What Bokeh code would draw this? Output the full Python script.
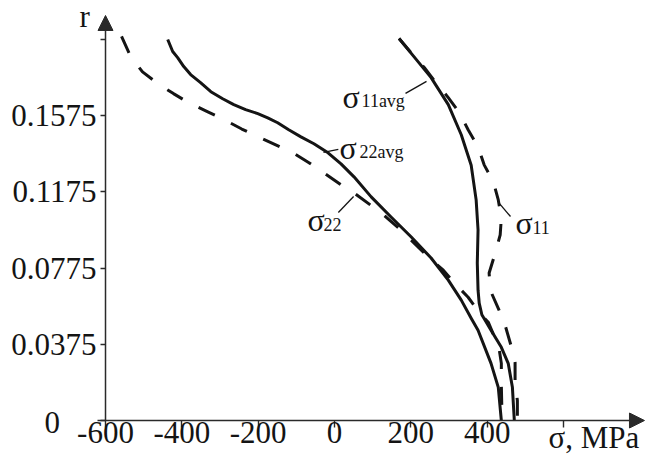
from bokeh.plotting import figure
from bokeh.models import Range1d, FixedTicker, Arrow, NormalHead, Label, ColumnDataSource
from bokeh.embed import file_html
from bokeh.resources import INLINE
from bokeh.core.properties import value

# ---------------- data ----------------
x_ticks = [-600, -400, -200, 0, 200, 400, 600]
x_tick_labels = ["-600", "-400", "-200", "0", "200", "400", ""]
y_ticks = [0, 0.04, 0.08, 0.12, 0.16, 0.2]
y_tick_labels = ["", "0.0375", "0.0775", "0.1175", "0.1575", ""]

s22avg_sigma = [-437, -424, -411, -395, -377, -351, -324, -293, -264, -233, -201, -175, -149, -120, -88, -54, -17, 17, 51, 96, 148, 201, 253, 298, 332, 358, 376, 410, 429, 437]
s22avg_r = [0.200, 0.1937, 0.1905, 0.1858, 0.1816, 0.1774, 0.1726, 0.1689, 0.1658, 0.1632, 0.1611, 0.1589, 0.1563, 0.1526, 0.1489, 0.1453, 0.1405, 0.1347, 0.1279, 0.1174, 0.1068, 0.0963, 0.0853, 0.0737, 0.0632, 0.0537, 0.0474, 0.0300, 0.0174, 0.0]

s22_sigma = [-558, -534, -503, -464, -422, -382, -332, -290, -243, -201, -154, -109, -67, -28, 17, 51, 101, 135, 174, 248, 285, 319, 350, 384, 403, 431, 437, 437, 439]
s22_r = [0.2016, 0.191, 0.183, 0.177, 0.1716, 0.1668, 0.162, 0.158, 0.153, 0.149, 0.1447, 0.1405, 0.1353, 0.130, 0.1237, 0.1195, 0.1121, 0.1068, 0.100, 0.0853, 0.0789, 0.0711, 0.0647, 0.0553, 0.0516, 0.0379, 0.030, 0.0184, 0.0]

s11avg_sigma = [169, 208, 253, 298, 332, 358, 371, 376, 374, 376, 379, 386, 410, 437, 455, 466, 471]
s11avg_r = [0.2005, 0.191, 0.180, 0.1658, 0.150, 0.134, 0.1158, 0.100, 0.0826, 0.0684, 0.0616, 0.0555, 0.0474, 0.0384, 0.030, 0.0174, 0.0]

s11_sigma = [169, 200, 235, 263, 298, 327, 350, 376, 392, 416, 429, 437, 434, 421, 405, 408, 431, 447, 466, 473, 473, 479, 479]
s11_r = [0.2005, 0.1932, 0.1853, 0.178, 0.1695, 0.1616, 0.1526, 0.1437, 0.1342, 0.1253, 0.1158, 0.1063, 0.0974, 0.0879, 0.0774, 0.0684, 0.0579, 0.050, 0.0368, 0.0305, 0.020, 0.0105, 0.0]

label_main = ["σ", "σ", "σ", "σ"]
label_sub = ["11avg", "22avg", "22", "11"]
label_x = [21, 13, -71, 474]
label_y = [0.1643, 0.1375, 0.0997, 0.0982]
label_sub_dx = [19, 20, 16, 17]

leader_x0 = [186, -29, 10, 430]
leader_y0 = [0.1717, 0.1407, 0.1092, 0.1144]
leader_x1 = [241, 10, 50, 461]
leader_y1 = [0.178, 0.1423, 0.1176, 0.1071]

# ---------------- figure ----------------
FONT = "Liberation Serif"
INK = "#141414"
AX = "#2a2a2a"
BIG = 32
SUB = 18
MID = 0.3375  # middle-of-box above baseline, in em

p = figure(width=646, height=455, output_backend="svg", toolbar_location=None,
           x_range=Range1d(-875.1, 817.3), y_range=Range1d(-0.01837, 0.22047),
           min_border_left=0, min_border_right=0, min_border_top=0, min_border_bottom=0)
p.outline_line_color = None
p.grid.visible = False
p.background_fill_color = "white"
p.border_fill_color = "white"

p.xaxis.ticker = FixedTicker(ticks=x_ticks)
p.xaxis.major_label_overrides = {t: l for t, l in zip(x_ticks, x_tick_labels)}
p.yaxis.ticker = FixedTicker(ticks=y_ticks)
p.yaxis.major_label_overrides = {t: l for t, l in zip(y_ticks, y_tick_labels)}
p.xaxis.fixed_location = 0
p.yaxis.fixed_location = -600

for ax in (p.xaxis, p.yaxis):
    ax.axis_line_color = None
    ax.major_tick_line_color = AX
    ax.major_tick_line_width = 1.4
    ax.major_tick_in = 0
    ax.minor_tick_line_color = None
    ax.major_label_text_font = FONT
    ax.major_label_text_font_size = "31px"
    ax.major_label_text_color = INK
p.xaxis.major_tick_out = 7
p.xaxis.major_label_standoff = -6
p.yaxis.major_tick_out = 5
p.yaxis.major_label_standoff = 4

# axis lines with arrow heads
p.add_layout(Arrow(end=NormalHead(size=15, fill_color=AX, line_color=AX),
                   x_start=-621, y_start=0, x_end=812, y_end=0,
                   line_color=AX, line_width=1.5))
p.add_layout(Arrow(end=NormalHead(size=15, fill_color=AX, line_color=AX),
                   x_start=-600, y_start=0, x_end=-600, y_end=0.2126,
                   line_color=AX, line_width=1.5))

# curves
p.line(s22avg_sigma, s22avg_r, line_color=INK, line_width=3, line_join="round")
p.line(s11avg_sigma, s11avg_r, line_color=INK, line_width=3, line_join="round")
p.line(s22_sigma, s22_r, line_color=INK, line_width=3, line_dash="18 18", line_join="round")
p.line(s11_sigma, s11_r, line_color=INK, line_width=3, line_dash="18 18", line_join="round")

# leaders
p.segment(leader_x0, leader_y0, leader_x1, leader_y1, line_color=INK, line_width=1.3)

# curve labels (label_y is the text baseline)
src = ColumnDataSource(dict(x=label_x, y=label_y, m=label_main, s=label_sub, dx=label_sub_dx))
p.text(x="x", y="y", text="m", source=src, y_offset=-MID * BIG,
       text_font=value(FONT), text_font_size=value(f"{BIG}px"),
       text_color=INK, text_baseline="middle", text_align="left")
p.text(x="x", y="y", text="s", x_offset="dx", y_offset=-MID * SUB, source=src,
       text_font=value(FONT), text_font_size=value(f"{SUB}px"),
       text_color=INK, text_baseline="middle", text_align="left")

# extra axis texts
p.add_layout(Label(x=-600, y=0, text="0", x_offset=-61, y_offset=-1.5, text_font=FONT,
                   text_font_size="31px", text_color=INK, text_baseline="middle", text_align="left"))
p.add_layout(Label(x=-600, y=0.2, text="r", x_offset=-26, y_offset=22.5, text_font=FONT,
                   text_font_size="31px", text_color=INK, text_baseline="middle", text_align="left"))
p.add_layout(Label(x=600, y=0, text="σ, MPa", x_offset=-15, y_offset=-16.5, text_font=FONT,
                   text_font_size="31px", text_color=INK, text_baseline="middle", text_align="left"))

open("out.html", "w").write(file_html(p, INLINE))
